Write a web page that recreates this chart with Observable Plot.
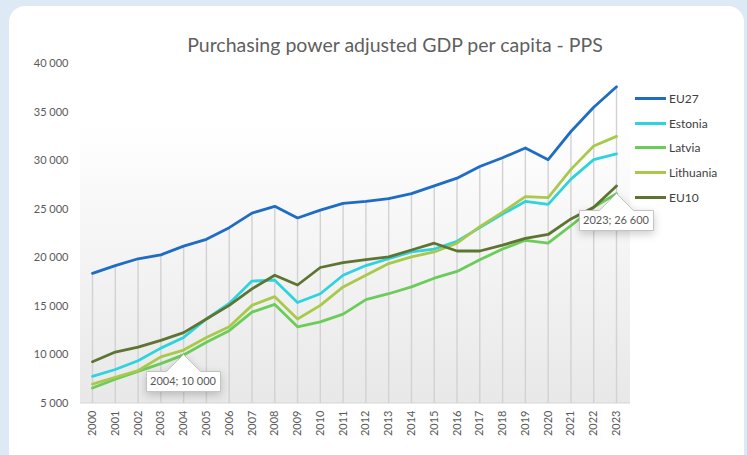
<!DOCTYPE html>
<html><head><meta charset="utf-8">
<script src="https://cdn.jsdelivr.net/npm/d3@7"></script>
<script src="https://cdn.jsdelivr.net/npm/@observablehq/plot@0.6"></script>
<style>
html,body{margin:0;padding:0;background:#dde9f5;}
#wrap{position:relative;width:747px;height:455px;overflow:hidden;background:#dde9f5;font-family:Lato,"Open Sans",sans-serif;}
#card{position:absolute;left:9px;top:6px;width:735px;height:462px;background:#fff;border-radius:16px;}
#title{position:absolute;left:0;width:790px;top:33px;text-align:center;font-size:19.5px;line-height:24px;color:#5f5f5f;white-space:nowrap;}
#chart{position:absolute;left:0;top:0;}
#legend{position:absolute;left:635px;top:86px;font-size:12px;color:#404040;}
.item{display:flex;align-items:center;height:24.7px;}
.sw{width:31px;height:3px;margin-right:3px;}
</style></head>
<body>
<div id="wrap">
  <div id="card"></div>
  <div id="chart"></div>
  <div id="title">Purchasing power adjusted GDP per capita - PPS</div>
  <div id="legend"></div>
</div>
<script>
const years = [2000,2001,2002,2003,2004,2005,2006,2007,2008,2009,2010,2011,2012,2013,2014,2015,2016,2017,2018,2019,2020,2021,2022,2023];
const seriesNames = ["EU27","Estonia","Latvia","Lithuania","EU10"];
const seriesColors = ["#1f6cc4","#2dd4e0","#6ccc5a","#a9c94a","#5e7430"];
const eu27 = [18400,19200,19900,20300,21200,21900,23100,24600,25300,24100,24900,25600,25800,26100,26600,27400,28200,29400,30300,31300,30100,33000,35500,37600];
const estonia = [7800,8500,9400,10700,11800,13700,15300,17600,17700,15400,16300,18200,19200,19900,20600,20900,21700,23100,24500,25800,25500,28100,30100,30700];
const latvia = [6600,7500,8300,9100,10000,11300,12500,14400,15200,12900,13400,14200,15700,16300,17000,17900,18600,19800,20900,21800,21500,23300,25200,26600];
const lithuania = [7000,7700,8400,9800,10500,11800,12900,15100,16000,13700,15100,17000,18200,19400,20100,20600,21500,23200,24700,26300,26200,29100,31500,32500];
const eu10 = [9300,10300,10800,11500,12300,13700,15100,16800,18200,17200,19000,19500,19800,20100,20800,21500,20700,20700,21300,22000,22400,24000,25200,27400];
const yTicks = [5000,10000,15000,20000,25000,30000,35000,40000];
const annotationLabels = ["2004; 10 000","2023; 26 600"];

const seriesValues = [eu27, estonia, latvia, lithuania, eu10];
const long = [];
seriesNames.forEach((name, s) => years.forEach((yr, i) => long.push({series: name, year: yr, value: seriesValues[s][i]})));
const dropRows = years.map((yr, i) => ({year: yr, top: eu27[i]}));
const annots = [
  {year: years[4], value: latvia[4], label: annotationLabels[0]},
  {year: years[23], value: latvia[23], label: annotationLabels[1]}
];
const fmt = v => d3.format(",")(v).replace(/,/g, " ");

function panel(index, scales, values, dims) {
  const ns = "http://www.w3.org/2000/svg";
  const g = document.createElementNS(ns, "g");
  const defs = document.createElementNS(ns, "defs");
  const grad = document.createElementNS(ns, "linearGradient");
  grad.setAttribute("id", "panelGrad");
  grad.setAttribute("x1", "0"); grad.setAttribute("y1", "0");
  grad.setAttribute("x2", "0"); grad.setAttribute("y2", "1");
  [["0", "#ffffff"], ["1", "#e8e8e8"]].forEach(([o, c]) => {
    const st = document.createElementNS(ns, "stop");
    st.setAttribute("offset", o); st.setAttribute("stop-color", c);
    grad.appendChild(st);
  });
  defs.appendChild(grad); g.appendChild(defs);
  const x0 = dims.marginLeft - 12, x1 = dims.width - dims.marginRight + 14;
  const yB = scales.y(yTicks[0]);
  const yT = dims.marginTop + 58;
  const r = document.createElementNS(ns, "rect");
  r.setAttribute("x", x0); r.setAttribute("y", yT);
  r.setAttribute("width", x1 - x0); r.setAttribute("height", yB - yT);
  r.setAttribute("fill", "url(#panelGrad)");
  g.appendChild(r);
  const l = document.createElementNS(ns, "line");
  l.setAttribute("x1", x0); l.setAttribute("x2", x1);
  l.setAttribute("y1", yB); l.setAttribute("y2", yB);
  l.setAttribute("stroke", "#d6d6d6"); l.setAttribute("stroke-width", "1");
  g.appendChild(l);
  return g;
}

const chart = Plot.plot({
  width: 747,
  height: 455,
  marginLeft: 92,
  marginRight: 131,
  marginTop: 63,
  marginBottom: 52,
  style: {background: "transparent", color: "#595959", fontFamily: "Lato, 'Open Sans', sans-serif", fontSize: "11px"},
  x: {domain: [years[0], years[years.length - 1]], label: null},
  y: {domain: [yTicks[0], yTicks[yTicks.length - 1]], label: null},
  color: {domain: seriesNames, range: seriesColors},
  marks: [
    panel,
    Plot.ruleX(dropRows, {x: "year", y1: yTicks[0], y2: "top", stroke: "#d2d2d2", strokeWidth: 1.4}),
    Plot.axisY({ticks: yTicks, tickSize: 0, tickPadding: 24, tickFormat: fmt, label: null}),
    Plot.axisX({ticks: years, tickSize: 0, tickPadding: 7, tickRotate: -90, tickFormat: d => String(d), label: null}),
    Plot.line(long, {x: "year", y: "value", z: "series", stroke: "series", strokeWidth: 2.8, strokeLinejoin: "round", strokeLinecap: "round"}),
    Plot.tip(annots, {x: "year", y: "value", title: "label", anchor: "top", pointerSize: 34, textPadding: 3.5, fill: "white", stroke: "#c4c4c4", fontSize: 11})
  ]
});
document.getElementById("chart").appendChild(chart);

const leg = document.getElementById("legend");
seriesNames.forEach((n, i) => {
  const it = document.createElement("div"); it.className = "item";
  const sw = document.createElement("div"); sw.className = "sw"; sw.style.background = seriesColors[i];
  const tx = document.createElement("span"); tx.textContent = n;
  it.appendChild(sw); it.appendChild(tx); leg.appendChild(it);
});
</script>
</body></html>
